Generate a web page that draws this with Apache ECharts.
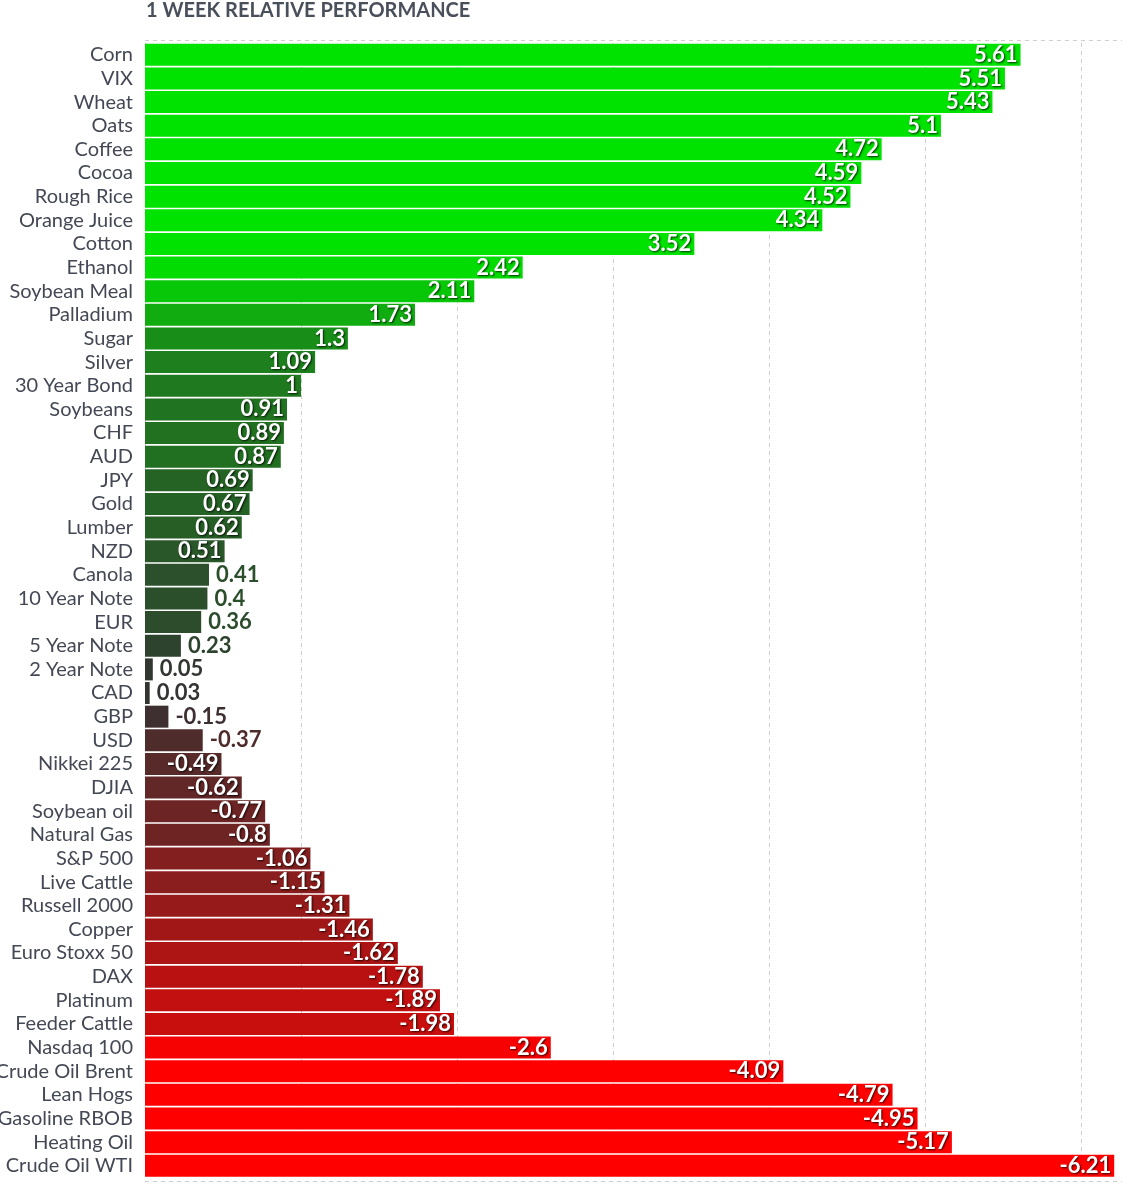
<!DOCTYPE html>
<html>
<head>
<meta charset="utf-8">
<script src="https://cdn.jsdelivr.net/npm/echarts@6/dist/echarts.min.js"></script>
<style>
html,body{margin:0;padding:0;background:#fff;}
#c{width:1122px;height:1186px;}
</style>
</head>
<body>
<div id="c"></div>
<script>
const categories = ['Corn','VIX','Wheat','Oats','Coffee','Cocoa','Rough Rice','Orange Juice','Cotton','Ethanol','Soybean Meal','Palladium','Sugar','Silver','30 Year Bond','Soybeans','CHF','AUD','JPY','Gold','Lumber','NZD','Canola','10 Year Note','EUR','5 Year Note','2 Year Note','CAD','GBP','USD','Nikkei 225','DJIA','Soybean oil','Natural Gas','S&P 500','Live Cattle','Russell 2000','Copper','Euro Stoxx 50','DAX','Platinum','Feeder Cattle','Nasdaq 100','Crude Oil Brent','Lean Hogs','Gasoline RBOB','Heating Oil','Crude Oil WTI'];
const values = [5.61,5.51,5.43,5.1,4.72,4.59,4.52,4.34,3.52,2.42,2.11,1.73,1.3,1.09,1,0.91,0.89,0.87,0.69,0.67,0.62,0.51,0.41,0.4,0.36,0.23,0.05,0.03,-0.15,-0.37,-0.49,-0.62,-0.77,-0.8,-1.06,-1.15,-1.31,-1.46,-1.62,-1.78,-1.89,-1.98,-2.6,-4.09,-4.79,-4.95,-5.17,-6.21];
const titleText = '1 WEEK RELATIVE PERFORMANCE';

function mix(a, b, t) {
  t = Math.max(0, Math.min(1, t));
  const r = Math.round(a[0] + (b[0] - a[0]) * t);
  const g = Math.round(a[1] + (b[1] - a[1]) * t);
  const bl = Math.round(a[2] + (b[2] - a[2]) * t);
  return 'rgb(' + r + ',' + g + ',' + bl + ')';
}
function colorFor(v) {
  const base = [51, 51, 51];
  if (v >= 0) return mix(base, [0, 226, 0], v / 2.5);
  return mix(base, [255, 0, 0], -v / 2.7);
}

const data = values.map(function (v) {
  const c = colorFor(v);
  const inside = Math.abs(v) >= 0.45;
  return {
    value: Math.abs(v),
    signed: v,
    itemStyle: { color: c },
    label: inside ? {
      show: true, position: 'insideRight', distance: 3, color: '#fff',
      textShadowColor: 'rgba(0,0,0,0.8)', textShadowBlur: 2, textShadowOffsetX: 1, textShadowOffsetY: 1
    } : {
      show: true, position: 'right', distance: 7, color: c,
      textShadowBlur: 0, textShadowColor: 'transparent'
    }
  };
});

const chart = echarts.init(document.getElementById('c'), null, { renderer: 'canvas' });
chart.setOption({
  animation: false,
  backgroundColor: '#fff',
  title: {
    text: titleText, left: 146, top: 1, padding: 0,
    textStyle: { fontFamily: 'Lato', fontWeight: 'bold', fontSize: 20, color: '#4a4f5c' }
  },
  grid: { left: 145, right: 0, top: 43, height: 1134.6, containLabel: false, outerBoundsMode: 'none' },
  xAxis: {
    type: 'value', min: 0, max: 6.26, interval: 1,
    axisLine: { show: false }, axisTick: { show: false }, axisLabel: { show: false },
    splitLine: { show: true, lineStyle: { color: '#cfcfcf', type: [4, 4], width: 1 } }
  },
  yAxis: {
    type: 'category', data: categories, inverse: true,
    axisLine: { show: false }, axisTick: { show: false },
    axisLabel: { interval: 0, margin: 12, fontFamily: 'Lato', fontSize: 20, color: '#434854' }
  },
  graphic: [
    { type: 'line', shape: { x1: 145, y1: 40.5, x2: 1122, y2: 40.5 }, style: { stroke: '#cfcfcf', lineDash: [4, 4], lineWidth: 1 } },
    { type: 'line', shape: { x1: 145, y1: 1181.5, x2: 1122, y2: 1181.5 }, style: { stroke: '#cfcfcf', lineDash: [4, 4], lineWidth: 1 } }
  ],
  series: [{
    type: 'bar', data: data, barWidth: 22,
    label: {
      show: true, fontFamily: 'Lato', fontWeight: 'bold', fontSize: 22,
      formatter: function (p) { return String(p.data.signed); }
    }
  }]
});
</script>
</body>
</html>
